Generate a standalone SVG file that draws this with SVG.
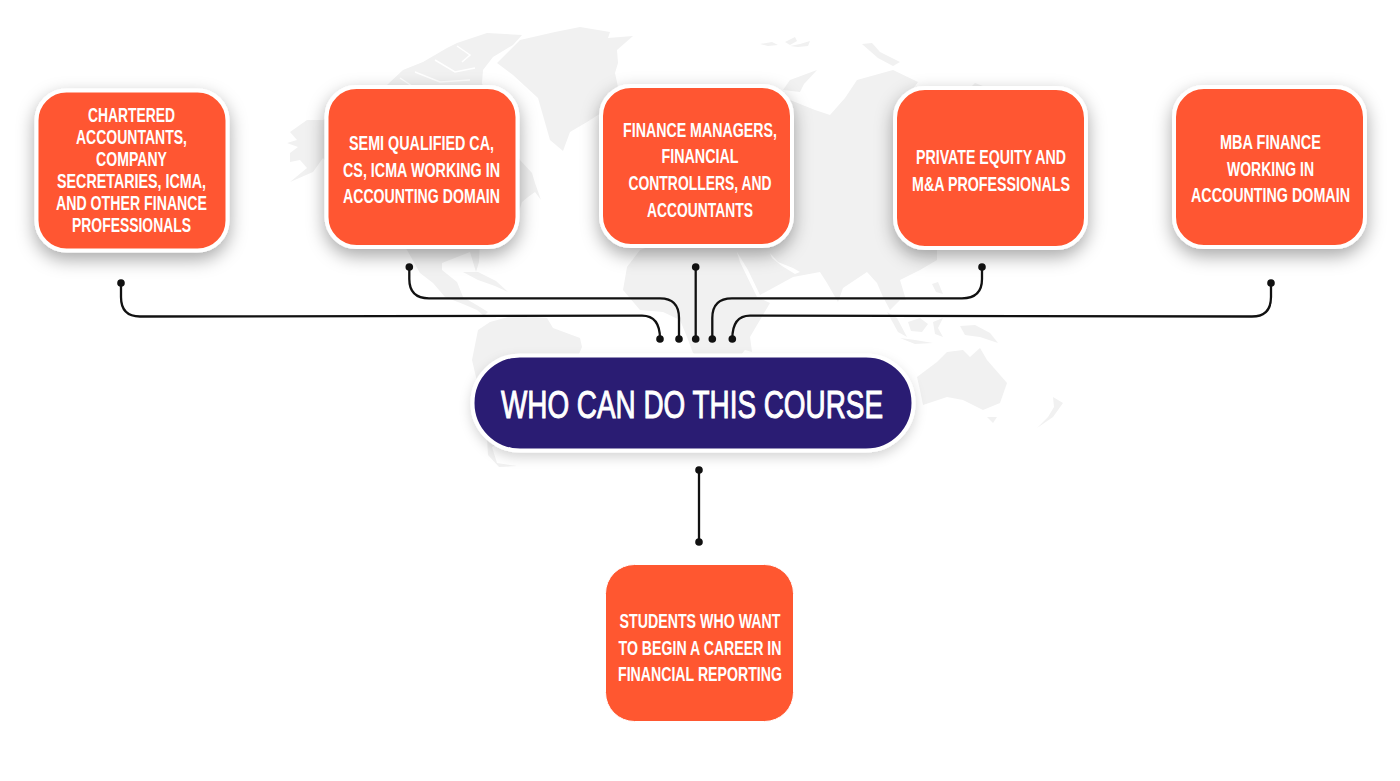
<svg xmlns="http://www.w3.org/2000/svg" width="1400" height="781" viewBox="0 0 1400 781">
<style>
.bg{fill:#fff}
.land{fill:#f1f1f1;stroke:none}
.sea{fill:#fff;stroke:none}
.seal{fill:none;stroke:#fff;stroke-width:1.5}
.box{fill:#ff5730;stroke:#fff;stroke-width:4}
.flat{fill:#ff5730;stroke:#fff;stroke-width:1}
.pill{fill:#2b1d73;stroke:#fff;stroke-width:4}
.t{font-family:"Liberation Sans",Arial,sans-serif;font-weight:700;font-size:21px;fill:#fff;text-anchor:middle}
.title{font-family:"Liberation Sans",Arial,sans-serif;font-weight:400;font-size:39px;fill:#fff;stroke:#fff;stroke-width:1;text-anchor:middle}
.line{fill:none;stroke:#111;stroke-width:2.300}
.dot{fill:#111}
</style>
<defs>
<filter id="sh" x="-30%" y="-30%" width="160%" height="170%"><feDropShadow dx="0" dy="7" stdDeviation="9" flood-color="#000" flood-opacity=".34"/></filter>
<filter id="shs" x="-10%" y="-30%" width="120%" height="170%"><feDropShadow dx="0" dy="5" stdDeviation="6" flood-color="#000" flood-opacity=".16"/></filter>
</defs>
<rect class="bg" width="1400" height="781"/>
<g id="map">
<polygon class="land" points="555,32 580,27 610,32 608,38 633,36 617,50 618,63 615,73 618,87 610,105 598,115 587,122 570,132 563,151 550,140 538,98 513,75 497,63 520,40"/>
<polygon class="land" points="487,33 522,35 513,45 493,57 483,70 482,83 486,100 400,100 387,85 403,70 423,62 447,48 457,43"/>
<path class="seal" d="M457,46 L470,55 L462,62 M435,60 L455,72 L475,68 M415,72 L440,82 L470,80 M400,78 L415,88"/>
<polygon class="land" points="290,132 307,120 323,120 345,110 400,100 482,100 500,120 520,160 532,173 535,183 541,200 535,192 528,197 522,202 510,240 480,240 479,262 476,272 470,252 442,263 442,270 457,282 463,297 480,307 488,312 484,316 477,310 463,304 445,297 433,283 420,273 407,250 370,210 323,158 313,172 290,182 307,168 300,160 290,162 290,153 298,147 287,143 297,140"/>
<polygon class="land" points="463,272 478,272 496,281 508,292 495,286 478,280"/>
<polygon class="land" points="478,330 490,322 515,315 547,318 553,328 580,338 582,347 572,370 530,420 505,440 492,447 497,463 517,466 499,467 488,455 486,420 472,360"/>
<polygon class="land" points="640,250 627,267 623,290 640,310 663,312 680,320 687,337 693,353 725,375 745,350 752,352 750,337 757,325 770,303 757,297 740,262 733,240 680,235"/>
<polygon class="land" points="783,90 790,80 817,70 804,84 800,92"/>
<polygon class="land" points="790,100 815,110 830,115 845,98 857,80 893,70 918,82 905,100 1060,100 1060,240 937,240 937,260 920,270 900,280 906,300 900,300 890,310 883,297 877,283 867,272 843,288 838,302 827,283 820,272 793,277 760,295 748,270 737,252 720,240 720,100"/>
<polygon class="sea" points="770,253 778,262 793,268 800,272 795,274 782,266 772,258"/>
<polygon class="land" points="970,88 975,83 983,86 985,90"/>
<polygon class="land" points="760,44 772,42 778,45 768,46"/><polygon class="land" points="785,42 795,37 797,41 790,45"/><polygon class="land" points="790,46 800,44 810,41 808,46 798,47"/>
<polygon class="land" points="862,44 872,43 880,52 900,62 893,66 878,58"/>
<polygon class="land" points="887,312 897,318 907,337 898,332"/>
<polygon class="land" points="900,338 915,340 933,343 915,344"/>
<polygon class="land" points="908,322 920,318 928,324 922,332 911,331"/>
<polygon class="land" points="933,322 943,318 938,328 943,337 935,334"/>
<polygon class="land" points="932,284 938,282 943,294 936,292"/>
<polygon class="land" points="960,326 975,325 990,333 998,343 980,337 965,335"/>
<polygon class="land" points="917,377 937,362 947,352 963,350 970,357 980,348 987,360 1007,383 1000,403 983,410 963,400 947,397 923,405 920,390"/>
<polygon class="land" points="987,417 997,417 993,423"/>
<polygon class="land" points="1053,397 1063,403 1053,417 1037,428 1048,417 1054,407"/>
</g>
<g id="node-chartered">
<rect class="box" filter="url(#sh)" x="36.500" y="90.500" width="191" height="160" rx="30"/>
<text class="t" x="131.500" y="121.700" textLength="87" lengthAdjust="spacingAndGlyphs">CHARTERED</text>
<text class="t" x="131.500" y="143.900" textLength="111" lengthAdjust="spacingAndGlyphs">ACCOUNTANTS,</text>
<text class="t" x="131.500" y="166" textLength="71" lengthAdjust="spacingAndGlyphs">COMPANY</text>
<text class="t" x="131.500" y="188" textLength="149" lengthAdjust="spacingAndGlyphs">SECRETARIES, ICMA,</text>
<text class="t" x="131.500" y="210" textLength="151" lengthAdjust="spacingAndGlyphs">AND OTHER FINANCE</text>
<text class="t" x="131.500" y="232" textLength="119" lengthAdjust="spacingAndGlyphs">PROFESSIONALS</text>
</g>
<g id="node-semi">
<rect class="box" filter="url(#sh)" x="326.500" y="87" width="191" height="160" rx="30"/>
<text class="t" x="421.500" y="150.300" textLength="145" lengthAdjust="spacingAndGlyphs">SEMI QUALIFIED CA,</text>
<text class="t" x="421.500" y="176.700" textLength="157" lengthAdjust="spacingAndGlyphs">CS, ICMA WORKING IN</text>
<text class="t" x="421.500" y="203" textLength="157" lengthAdjust="spacingAndGlyphs">ACCOUNTING DOMAIN</text>
</g>
<g id="node-finance">
<rect class="box" filter="url(#sh)" x="601" y="86" width="191" height="160" rx="30"/>
<text class="t" x="700" y="136.700" textLength="154" lengthAdjust="spacingAndGlyphs">FINANCE MANAGERS,</text>
<text class="t" x="700" y="163.300" textLength="77" lengthAdjust="spacingAndGlyphs">FINANCIAL</text>
<text class="t" x="700" y="190" textLength="143" lengthAdjust="spacingAndGlyphs">CONTROLLERS, AND</text>
<text class="t" x="700" y="216.700" textLength="106" lengthAdjust="spacingAndGlyphs">ACCOUNTANTS</text>
</g>
<g id="node-equity">
<rect class="box" filter="url(#sh)" x="895" y="88" width="191" height="160" rx="30"/>
<text class="t" x="991" y="164" textLength="150" lengthAdjust="spacingAndGlyphs">PRIVATE EQUITY AND</text>
<text class="t" x="991" y="191" textLength="158" lengthAdjust="spacingAndGlyphs">M&amp;A PROFESSIONALS</text>
</g>
<g id="node-mba">
<rect class="box" filter="url(#sh)" x="1174" y="87" width="191" height="160" rx="30"/>
<text class="t" x="1270.500" y="149" textLength="101" lengthAdjust="spacingAndGlyphs">MBA FINANCE</text>
<text class="t" x="1270.500" y="175.500" textLength="87" lengthAdjust="spacingAndGlyphs">WORKING IN</text>
<text class="t" x="1270.500" y="202" textLength="159" lengthAdjust="spacingAndGlyphs">ACCOUNTING DOMAIN</text>
</g>
<g id="node-center">
<rect class="pill" filter="url(#shs)" x="472.500" y="355.500" width="441" height="95" rx="47.500"/>
<text class="title" x="692" y="418.300" textLength="382" lengthAdjust="spacingAndGlyphs">WHO CAN DO THIS COURSE</text>
</g>
<g id="node-students">
<rect class="flat" x="605.500" y="564.500" width="188" height="157" rx="29"/>
<text class="t" x="700" y="628.300" textLength="161" lengthAdjust="spacingAndGlyphs">STUDENTS WHO WANT</text>
<text class="t" x="700" y="655" textLength="163" lengthAdjust="spacingAndGlyphs">TO BEGIN A CAREER IN</text>
<text class="t" x="700" y="681" textLength="164" lengthAdjust="spacingAndGlyphs">FINANCIAL REPORTING</text>
</g>
<g id="connectors">
<path class="line" d="M121,283 V297 Q121,316.500 140,316.500 L642,315.700 Q660,315.700 660,339"/>
<path class="line" d="M409.300,267 V279 Q409.300,298.300 429,298.300 H660 Q679,298.300 679,318 V339"/>
<path class="line" d="M695.700,267 V339"/>
<path class="line" d="M982,267 V279 Q982,298.300 962,298.300 H732 Q712.300,298.300 712.300,318 V339"/>
<path class="line" d="M1271,283 V297 Q1271,316.500 1252,316.500 L750,315.700 Q732.300,315.700 732.300,339"/>
<path class="line" d="M699,470 V542"/>
<g class="dot">
<circle cx="121" cy="283" r="3.800"/><circle cx="409.300" cy="267" r="3.800"/><circle cx="695.700" cy="267" r="3.800"/><circle cx="982" cy="267" r="3.800"/><circle cx="1271" cy="283" r="3.800"/>
<circle cx="660" cy="339" r="3.800"/><circle cx="679" cy="339" r="3.800"/><circle cx="695.700" cy="339" r="3.800"/><circle cx="712.300" cy="339" r="3.800"/><circle cx="732.300" cy="339" r="3.800"/>
<circle cx="699" cy="470" r="3.800"/><circle cx="699" cy="542" r="3.800"/>
</g>
</g>
</svg>
